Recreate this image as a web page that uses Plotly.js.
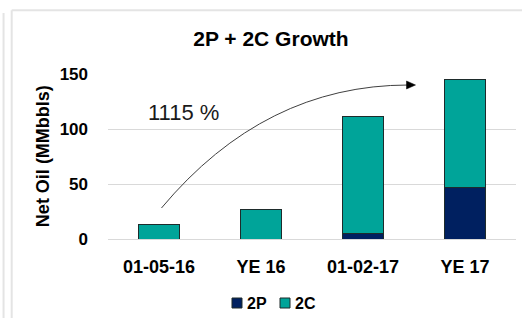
<!DOCTYPE html>
<html>
<head>
<meta charset="utf-8">
<script src="https://cdn.plot.ly/plotly-3.0.1.min.js"></script>
<style>
  html, body { margin: 0; padding: 0; background: #ffffff; }
  #chart { width: 522px; height: 318px; }
</style>
</head>
<body>
<div id="chart"></div>
<script>
const categories = ["01-05-16", "YE 16", "01-02-17", "YE 17"];
const seriesNames = ["2P", "2C"];
const values2P = [0, 0, 5, 47];
const values2C = [13, 27, 106, 98];
const yTicks = [0, 50, 100, 150];
const growthLabel = "1115 %";

const FONT = "Liberation Sans, Arial, sans-serif";
const COLORS = ["#002060", "#00A499"];
const barLine = { color: "#1e2b2b", width: 1 };

const traces = [
  {
    type: "bar", name: seriesNames[0], x: categories, y: values2P,
    marker: { color: COLORS[0], line: barLine }
  },
  {
    type: "bar", name: seriesNames[1], x: categories, y: values2C,
    marker: { color: COLORS[1], line: barLine }
  }
];

// custom legend (square swatch + label, tight like the original)
const legendItems = [
  { sq: [0.3039, 0.3284], tx: 0.3358 },
  { sq: [0.4216, 0.4461], tx: 0.4534 }
];
const legendShapes = legendItems.map((it, i) => ({
  type: "rect", xref: "paper", yref: "paper",
  x0: it.sq[0], x1: it.sq[1], y0: -0.4182, y1: -0.3576,
  fillcolor: COLORS[i], line: { color: "#1e2b2b", width: 1 }
}));
const legendTexts = legendItems.map((it, i) => ({
  text: "<b>" + seriesNames[i] + "</b>",
  xref: "paper", yref: "paper", x: it.tx, y: -0.3879,
  xanchor: "left", yanchor: "middle", showarrow: false,
  font: { family: FONT, size: 16, color: "#000000" }
}));

const frameColor = "#e4e4e4";
const layout = {
  width: 522, height: 318,
  margin: { l: 108, r: 6, t: 74, b: 79, pad: 0 },
  paper_bgcolor: "#ffffff", plot_bgcolor: "#ffffff",
  barmode: "stack", bargap: 0.6,
  showlegend: false,
  font: { family: FONT, color: "#000000" },
  title: {
    text: "<b>2P + 2C Growth</b>",
    font: { family: FONT, size: 21, color: "#000000" },
    x: 0.519, xref: "container", xanchor: "center",
    y: 0.877, yref: "container", yanchor: "middle"
  },
  xaxis: {
    type: "category",
    showgrid: false, showline: false, zeroline: false, ticks: "",
    tickfont: { family: FONT, size: 18, color: "#000000", weight: "bold" },
    ticklabelstandoff: 15
  },
  yaxis: {
    range: [0, 150], tickvals: yTicks, ticktext: yTicks.map(String),
    showgrid: true, gridcolor: "#d9d9d9", gridwidth: 1,
    zeroline: true, zerolinecolor: "#d9d9d9", zerolinewidth: 1,
    showline: false, ticks: "",
    tickfont: { family: FONT, size: 17, color: "#000000", weight: "bold" },
    ticklabelstandoff: 19
  },
  annotations: [
    {
      text: "<b>Net Oil (MMbbls)</b>", textangle: -90,
      xref: "paper", yref: "paper", x: -0.159, y: 0.503,
      xanchor: "center", yanchor: "middle", showarrow: false,
      font: { family: FONT, size: 18, color: "#000000" }
    },
    {
      text: growthLabel,
      xref: "paper", yref: "paper", x: 0.184, y: 0.765,
      xanchor: "center", yanchor: "middle", showarrow: false,
      font: { family: FONT, size: 22, color: "#1a1a1a" }
    }
  ].concat(legendTexts),
  shapes: [
    {
      type: "path", xref: "paper", yref: "paper",
      path: "M 0.1311 0.1879 Q 0.3836 0.9333 0.7365 0.9333",
      line: { color: "#404040", width: 1 }
    },
    {
      type: "path", xref: "paper", yref: "paper",
      path: "M 0.7537 0.9333 L 0.7316 0.9576 L 0.7316 0.9091 Z",
      fillcolor: "#000000", line: { color: "#000000", width: 0.5 }
    },
    { type: "line", xref: "paper", yref: "paper", x0: -0.236, x1: 1.02, y0: 1.386, y1: 1.386,
      line: { color: frameColor, width: 2 } },
    { type: "line", xref: "paper", yref: "paper", x0: -0.236, x1: -0.236, y0: 1.386, y1: -0.5,
      line: { color: frameColor, width: 2 } },
    { type: "line", xref: "paper", yref: "paper", x0: -0.256, x1: -0.256, y0: 1.37, y1: -0.5,
      line: { color: frameColor, width: 2 } }
  ].concat(legendShapes)
};

Plotly.newPlot("chart", traces, layout, { displayModeBar: false, staticPlot: true });
</script>
</body>
</html>
